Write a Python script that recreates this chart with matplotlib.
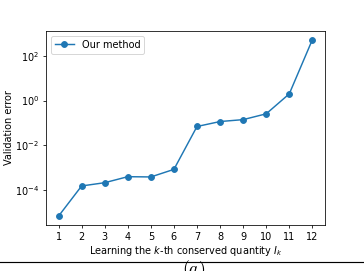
import numpy as np
import matplotlib.pyplot as plt
from matplotlib.lines import Line2D

k = [1, 2, 3, 4, 5, 6, 7, 8, 9, 10, 11, 12]
val_error = [6.7e-6, 1.5e-4, 2.1e-4, 3.9e-4, 3.8e-4, 8.3e-4,
             0.069, 0.115, 0.14, 0.255, 2.0, 530]
y_ticks = [1e-4, 1e-2, 1e0, 1e2]

# the source figure looks like a default matplotlib figure shrunk to ~70%
fig = plt.figure(figsize=(364 / 70, 271 / 70), dpi=70)
ax = fig.add_axes([0.126, 0.170, 0.767, 0.716])
ax.plot(k, val_error, marker='o', color='tab:blue', label='Our method')
ax.set_yscale('log')
ax.set_yticks(y_ticks)
ax.minorticks_off()
ax.set_xticks(k)
ax.set_xlabel('Learning the $k$-th conserved quantity $I_k$', labelpad=2)
ax.set_ylabel('Validation error', labelpad=1)
ax.legend(loc='upper left')

# separator line and panel label underneath
fig.add_artist(Line2D([0, 1], [0.033, 0.033], color='black', lw=1.2))
fig.text(0.533, -0.038, '$(a)$', fontsize=18, ha='center', va='bottom',
         math_fontfamily='cm')

fig.savefig('out.png', dpi=70)
